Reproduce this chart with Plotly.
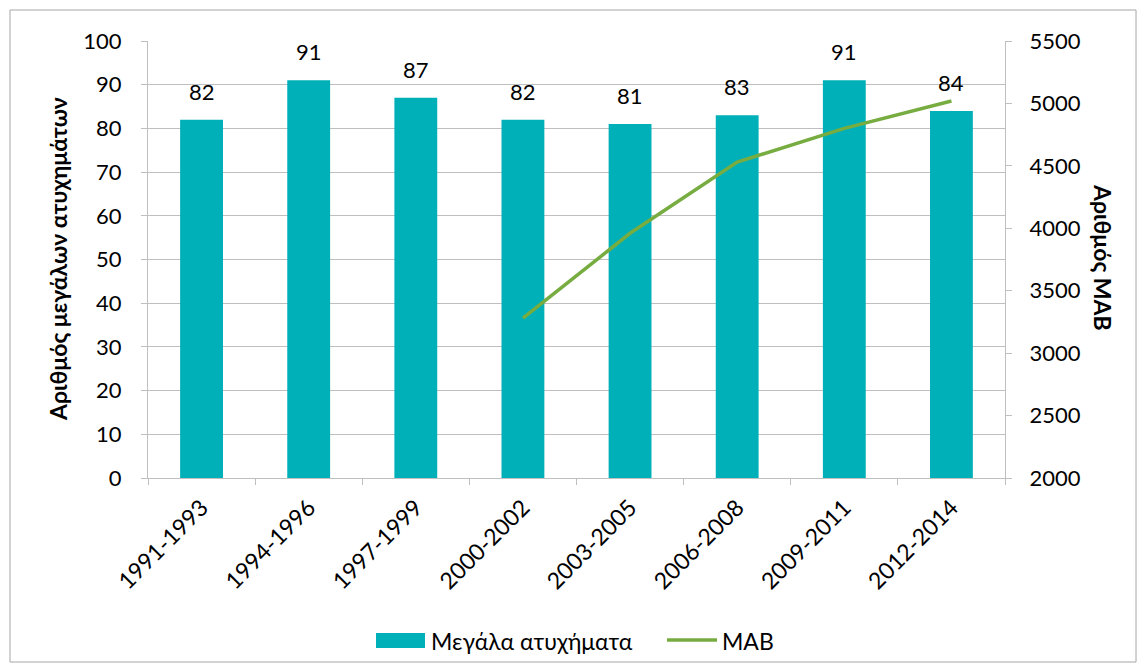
import plotly.graph_objects as go

# Data
periods = ["1991-1993", "1994-1996", "1997-1999", "2000-2002",
           "2003-2005", "2006-2008", "2009-2011", "2012-2014"]
major_accidents = [82, 91, 87, 82, 81, 83, 91, 84]
mab_periods = ["2000-2002", "2003-2005", "2006-2008", "2009-2011", "2012-2014"]
mab_values = [3280, 3960, 4530, 4800, 5020]

FONT = "Lato, 'Open Sans', sans-serif"
FS = 22       # numbers
FS_TXT = 23   # legend / titles / category labels
BAR_COLOR = "#00B0B9"
LINE_COLOR = "#77AC41"
GRID = "#BFBFBF"

# the page has an 8px body margin, so figure pixels = screen pixels - 8
OFF = 8
W, H = 1130, 656
L, T = 148 - OFF, 41 - OFF
R = W - (1005 - OFF)
B = H - (478 - OFF)
PW, PH = W - L - R, H - T - B


def px_x(x):
    return (x - OFF - L) / PW


def px_y(y):
    return (H - B - (y - OFF)) / PH


fig = go.Figure()

fig.add_bar(
    x=periods, y=major_accidents,
    name="Μεγάλα ατυχήματα",
    marker=dict(color=BAR_COLOR, line=dict(width=0)),
    width=0.4,
    showlegend=False,
)

fig.add_scatter(
    x=mab_periods, y=mab_values,
    name="MAB", mode="lines",
    line=dict(color=LINE_COLOR, width=3.5),
    yaxis="y2",
    showlegend=False,
)

# data labels above bars
for p, v in zip(periods, major_accidents):
    fig.add_annotation(
        x=p, y=v, text=str(v), showarrow=False,
        yanchor="bottom", yshift=13,
        font=dict(size=FS, color="black"),
    )

# outer frame around the whole chart
fig.add_shape(
    type="rect", xref="paper", yref="paper",
    x0=px_x(10), x1=px_x(1136), y0=px_y(662), y1=px_y(10),
    line=dict(color="#A6A6A6", width=1), layer="below",
)

# legend drawn by hand (Excel-style wide swatches)
fig.add_shape(
    type="rect", xref="paper", yref="paper",
    x0=px_x(376), x1=px_x(425), y0=px_y(648), y1=px_y(633),
    fillcolor=BAR_COLOR, line=dict(width=0),
)
fig.add_annotation(
    xref="paper", yref="paper", x=px_x(429), y=px_y(640.5),
    xanchor="left", yanchor="middle", showarrow=False,
    text="Μεγάλα ατυχήματα", font=dict(size=FS_TXT),
)
fig.add_shape(
    type="line", xref="paper", yref="paper",
    x0=px_x(667), x1=px_x(717), y0=px_y(640), y1=px_y(640),
    line=dict(color=LINE_COLOR, width=3.5),
)
fig.add_annotation(
    xref="paper", yref="paper", x=px_x(720), y=px_y(640.5),
    xanchor="left", yanchor="middle", showarrow=False,
    text="MAB", font=dict(size=FS_TXT),
)

# axis titles
fig.add_annotation(
    xref="paper", yref="paper", x=px_x(58), y=px_y(259),
    xanchor="center", yanchor="middle",
    textangle=-90, showarrow=False,
    text="<b>Αριθμός μεγάλων ατυχημάτων</b>", font=dict(size=FS_TXT),
)
fig.add_annotation(
    xref="paper", yref="paper", x=px_x(1103), y=px_y(257),
    xanchor="center", yanchor="middle",
    textangle=90, showarrow=False,
    text="<b>Αριθμός MAB</b>", font=dict(size=FS_TXT),
)

fig.update_layout(
    width=W, height=H,
    margin=dict(l=L, r=R, t=T, b=B, autoexpand=False),
    paper_bgcolor="white", plot_bgcolor="white",
    font=dict(family=FONT, size=FS, color="black"),
    showlegend=False,
    xaxis=dict(
        type="category", tickangle=-45, automargin=False,
        showline=True, linecolor=GRID, linewidth=1,
        ticks="outside", tickson="boundaries", ticklen=6, tickcolor=GRID,
        ticklabelstandoff=6, tickfont=dict(size=FS_TXT),
        showgrid=False,
    ),
    yaxis=dict(
        range=[0, 100], dtick=10, automargin=False,
        showline=True, linecolor=GRID, linewidth=1,
        ticks="outside", ticklen=6, tickcolor=GRID,
        ticklabelstandoff=15,
        gridcolor=GRID, gridwidth=1,
        zeroline=False,
    ),
    yaxis2=dict(
        range=[2000, 5500], dtick=500, automargin=False,
        overlaying="y", side="right",
        showline=True, linecolor=GRID, linewidth=1,
        ticks="outside", ticklen=6, tickcolor=GRID,
        ticklabelstandoff=13,
        showgrid=False, zeroline=False,
    ),
)

fig.write_html("out.html")
